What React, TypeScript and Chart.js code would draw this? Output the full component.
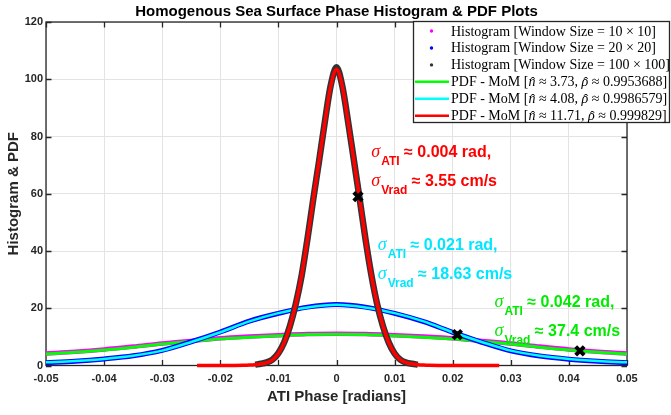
import React, { useEffect, useRef } from 'react';
import { Chart, registerables } from 'chart.js';

Chart.register(...registerables);

// ---------- DATA ----------
const xTickLabels = ['-0.05', '-0.04', '-0.03', '-0.02', '-0.01', '0', '0.01', '0.02', '0.03', '0.04', '0.05'];
const yTickLabels = ['0', '20', '40', '60', '80', '100', '120'];

const redX = [-0.024, -0.02, -0.018, -0.016, -0.015, -0.014, -0.013, -0.012, -0.011, -0.01, -0.009, -0.008, -0.007, -0.006, -0.005, -0.004, -0.003, -0.002, -0.001, 0, 0.001, 0.002, 0.003, 0.004, 0.005, 0.006, 0.007, 0.008, 0.009, 0.01, 0.011, 0.012, 0.013, 0.014, 0.015, 0.016, 0.018, 0.02, 0.024, 0.028];
const redY = [0, 0, 0.02, 0.07, 0.15, 0.3, 0.55, 1.0, 2.0, 4.2, 8.0, 13.8, 21.5, 31.5, 44.0, 58.0, 71.5, 85.0, 97.5, 103.5, 97.5, 85.0, 71.5, 58.0, 44.0, 31.5, 21.5, 13.8, 8.0, 4.2, 2.0, 1.0, 0.55, 0.3, 0.15, 0.07, 0.02, 0, 0, 0];

const blackX = [-0.014, -0.013, -0.012, -0.011, -0.01, -0.009, -0.008, -0.007, -0.006, -0.005, -0.004, -0.003, -0.002, -0.001, 0, 0.001, 0.002, 0.003, 0.004, 0.005, 0.006, 0.007, 0.008, 0.009, 0.01, 0.011, 0.012, 0.013, 0.014];
const blackY = [0.3, 0.6, 1.1, 2.1, 4.3, 8.1, 13.9, 21.6, 31.4, 44.2, 58.1, 71.4, 85.2, 97.8, 104.2, 97.6, 85.1, 71.6, 58.0, 44.0, 31.6, 21.4, 13.7, 8.0, 4.2, 2.0, 1.0, 0.6, 0.3];

const pdfX = [-0.05, -0.045, -0.04, -0.035, -0.03, -0.025, -0.02, -0.015, -0.01, -0.005, 0, 0.005, 0.01, 0.015, 0.02, 0.025, 0.03, 0.035, 0.04, 0.045, 0.05];
const cyanY = [1.1, 1.6, 2.3, 3.4, 5.2, 8.2, 11.6, 15.4, 18.3, 20.3, 21.2, 20.3, 18.3, 15.4, 11.6, 8.2, 5.2, 3.4, 2.3, 1.6, 1.1];
const blueY = [1.0, 1.5, 2.3, 3.4, 5.3, 8.3, 11.7, 15.5, 18.2, 20.4, 21.3, 20.4, 18.2, 15.3, 11.6, 8.1, 5.1, 3.3, 2.2, 1.5, 1.0];
const greenY = [4.0, 4.6, 5.4, 6.4, 7.5, 8.4, 9.3, 9.9, 10.4, 10.8, 10.9, 10.8, 10.4, 9.9, 9.3, 8.4, 7.5, 6.4, 5.4, 4.6, 4.0];
const magentaY = [4.2, 4.8, 5.6, 6.6, 7.7, 8.6, 9.5, 10.1, 10.6, 11.0, 11.1, 11.0, 10.6, 10.1, 9.5, 8.6, 7.7, 6.6, 5.6, 4.8, 4.2];

const markerX = [0.0037, 0.0208, 0.0419];
const markerY = [59.0, 10.8, 5.1];

const titleText = 'Homogenous Sea Surface Phase Histogram & PDF Plots';
const xTitle = 'ATI Phase [radians]';
const yTitle = 'Histogram & PDF';

// ---------- HELPERS ----------
const pts = (xs: number[], ys: number[]) => xs.map((x, i) => ({ x, y: ys[i] }));

type Seg = [string, string];

function drawLegendText(ctx: CanvasRenderingContext2D, x: number, y: number, segs: Seg[]) {
  const normal = '14px "Liberation Serif"';
  const italic = 'italic 14px "Liberation Serif"';
  for (const [kind, text] of segs) {
    if (kind === 'h') {
      ctx.font = italic;
      const w = ctx.measureText(text).width;
      ctx.fillText(text, x, y);
      ctx.font = normal;
      const hw = ctx.measureText('\u02C6').width;
      ctx.fillText('\u02C6', x + w / 2 - hw / 2 + 1, y + 1);
      x += w;
    } else {
      ctx.font = normal;
      ctx.fillText(text, x, y);
      x += ctx.measureText(text).width;
    }
  }
}

function drawSigma(ctx: CanvasRenderingContext2D, x: number, y: number, color: string, sub: string, rest: string) {
  ctx.fillStyle = color;
  ctx.textAlign = 'left';
  ctx.textBaseline = 'alphabetic';
  ctx.font = 'italic 18px "Liberation Serif"';
  ctx.fillText('\u03C3', x, y);
  x += ctx.measureText('\u03C3').width + 1;
  ctx.font = 'bold 12px "Liberation Sans"';
  ctx.fillText(sub, x, y + 8);
  x += ctx.measureText(sub).width;
  ctx.font = 'bold 16px "Liberation Sans"';
  ctx.fillText(rest, x, y);
}

const customPlugin = {
  id: 'customDraw',
  beforeDatasetsDraw(chart: any) {
    const { ctx, chartArea: a, scales } = chart;
    ctx.save();
    ctx.strokeStyle = '#262626';
    ctx.lineWidth = 1.3;
    ctx.strokeRect(a.left, a.top, a.right - a.left, a.bottom - a.top);
    const tl = 5.5;
    ctx.beginPath();
    scales.x.ticks.forEach((t: any) => {
      const px = Math.round(scales.x.getPixelForValue(t.value)) + 0.5;
      ctx.moveTo(px, a.bottom);
      ctx.lineTo(px, a.bottom - tl);
      ctx.moveTo(px, a.top);
      ctx.lineTo(px, a.top + tl);
    });
    scales.y.ticks.forEach((t: any) => {
      const py = Math.round(scales.y.getPixelForValue(t.value)) + 0.5;
      ctx.moveTo(a.left, py);
      ctx.lineTo(a.left + tl, py);
      ctx.moveTo(a.right, py);
      ctx.lineTo(a.right - tl, py);
    });
    ctx.stroke();
    ctx.restore();
  },
  afterDraw(chart: any) {
    const { ctx, chartArea: a, scales } = chart;
    const sx = scales.x, sy = scales.y;
    ctx.save();
    // title
    ctx.fillStyle = '#000';
    ctx.font = 'bold 15px "Liberation Sans"';
    ctx.textAlign = 'center';
    ctx.textBaseline = 'alphabetic';
    ctx.fillText(titleText, (a.left + a.right) / 2, 16);

    // annotations
    const anns = [
      { x: 0.006, y1: 72.9, y2: 62.8, color: '#ff0000', r1: ' \u2248 0.004 rad,', r2: ' \u2248 3.55 cm/s' },
      { x: 0.0071, y1: 40.4, y2: 30.2, color: 'rgb(0,230,255)', r1: ' \u2248 0.021 rad,', r2: ' \u2248 18.63 cm/s' },
      { x: 0.0272, y1: 20.5, y2: 10.3, color: 'rgb(0,235,0)', r1: ' \u2248 0.042 rad,', r2: ' \u2248 37.4 cm/s' },
    ];
    anns.forEach((an) => {
      const px = sx.getPixelForValue(an.x);
      drawSigma(ctx, px, sy.getPixelForValue(an.y1), an.color, 'ATI', an.r1);
      drawSigma(ctx, px, sy.getPixelForValue(an.y2), an.color, 'Vrad', an.r2);
    });

    // legend
    const lx = 413, ly = 21, lw = 256, lh = 101;
    ctx.fillStyle = '#fff';
    ctx.fillRect(lx, ly, lw, lh);
    ctx.strokeStyle = '#262626';
    ctx.lineWidth = 1.3;
    ctx.strokeRect(lx + 0.5, ly + 0.5, lw, lh);
    const rows: { kind: string; color: string; segs: Seg[] }[] = [
      { kind: 'dot', color: '#ff00ff', segs: [['n', 'Histogram [Window Size = 10 \u00D7 10]']] },
      { kind: 'dot', color: '#0000ff', segs: [['n', 'Histogram [Window Size = 20 \u00D7 20]']] },
      { kind: 'dot', color: '#333333', segs: [['n', 'Histogram [Window Size = 100 \u00D7 100]']] },
      { kind: 'line', color: '#00ff00', segs: [['n', 'PDF - MoM ['], ['h', 'n'], ['n', ' \u2248 3.73, '], ['h', '\u03C1'], ['n', ' \u2248 0.9953688]']] },
      { kind: 'line', color: '#00ffff', segs: [['n', 'PDF - MoM ['], ['h', 'n'], ['n', ' \u2248 4.08, '], ['h', '\u03C1'], ['n', ' \u2248 0.9986579]']] },
      { kind: 'line', color: '#ff0000', segs: [['n', 'PDF - MoM ['], ['h', 'n'], ['n', ' \u2248 11.71, '], ['h', '\u03C1'], ['n', ' \u2248 0.999829]']] },
    ];
    rows.forEach((r, i) => {
      const cy = 31 + i * 16.95;
      if (r.kind === 'dot') {
        ctx.fillStyle = r.color;
        ctx.beginPath();
        ctx.arc(431.5, cy, 1.7, 0, Math.PI * 2);
        ctx.fill();
      } else {
        ctx.strokeStyle = r.color;
        ctx.lineWidth = 2.5;
        ctx.beginPath();
        ctx.moveTo(415, cy);
        ctx.lineTo(449, cy);
        ctx.stroke();
      }
      ctx.fillStyle = '#000';
      ctx.textAlign = 'left';
      ctx.textBaseline = 'alphabetic';
      drawLegendText(ctx, 451, cy + 4.5, r.segs);
    });
    ctx.restore();
  },
};

export default function App() {
  const ref = useRef<HTMLCanvasElement | null>(null);
  useEffect(() => {
    if (!ref.current) return;
    const lineDs = (label: string, xs: number[], ys: number[], color: string, width: number, order: number) => ({
      type: 'line' as const,
      label,
      data: pts(xs, ys),
      borderColor: color,
      backgroundColor: color,
      borderWidth: width,
      pointRadius: 0,
      fill: false,
      cubicInterpolationMode: 'monotone' as const,
      clip: 6,
      order,
    });
    const chart = new Chart(ref.current, {
      type: 'line',
      data: {
        datasets: [
          {
            type: 'scatter',
            label: 'sigma points',
            data: pts(markerX, markerY),
            showLine: false,
            pointStyle: 'crossRot',
            pointRadius: 6,
            borderWidth: 4,
            borderColor: '#000',
            backgroundColor: '#000',
            clip: 6,
            order: 0,
          } as any,
          lineDs('PDF - MoM n=11.71', redX, redY, '#ff0000', 3.5, 1),
          lineDs('Histogram 100x100', blackX, blackY, '#333333', 6.5, 2),
          lineDs('PDF - MoM n=4.08', pdfX, cyanY, '#00ffff', 2.5, 3),
          lineDs('Histogram 20x20', pdfX, blueY, '#0000ff', 5, 4),
          lineDs('PDF - MoM n=3.73', pdfX, greenY, '#00ff00', 3, 5),
          lineDs('Histogram 10x10', pdfX, magentaY, '#ff00ff', 4.5, 6),
        ],
      },
      options: {
        responsive: false,
        animation: false,
        events: [],
        layout: { padding: { top: 22, right: 44, left: 0, bottom: 0 } },
        plugins: { legend: { display: false }, tooltip: { enabled: false }, title: { display: false } },
        scales: {
          x: {
            type: 'linear',
            min: -0.05,
            max: 0.05,
            afterFit: (s: any) => { s.height = 49.5; },
            ticks: {
              stepSize: 0.01,
              autoSkip: false,
              maxRotation: 0,
              padding: 7,
              color: '#262626',
              font: { family: '"Liberation Sans"', size: 11, weight: 'bold' },
              callback: (_v: any, i: number) => xTickLabels[i],
            },
            grid: { color: '#e3e3e3', drawTicks: false },
            border: { display: false },
            title: {
              display: true,
              text: xTitle,
              color: '#262626',
              font: { family: '"Liberation Sans"', size: 15, weight: 'bold' },
              padding: { top: 0, bottom: 9 },
            },
          },
          y: {
            type: 'linear',
            min: 0,
            max: 120,
            afterFit: (s: any) => { s.width = 46; },
            ticks: {
              stepSize: 20,
              padding: 3,
              color: '#262626',
              font: { family: '"Liberation Sans"', size: 11, weight: 'bold' },
              callback: (_v: any, i: number) => yTickLabels[i],
            },
            grid: { color: '#e3e3e3', drawTicks: false },
            border: { display: false },
            title: {
              display: true,
              text: yTitle,
              color: '#262626',
              font: { family: '"Liberation Sans"', size: 15, weight: 'bold' },
              padding: { top: 5, bottom: 0 },
            },
          },
        },
      } as any,
      plugins: [customPlugin],
    });
    return () => chart.destroy();
  }, []);
  return (
    <div style={{ position: 'absolute', left: 0, top: 0, width: 671, height: 415, background: '#fff' }}>
      <canvas ref={ref} width={671} height={415} />
    </div>
  );
}
